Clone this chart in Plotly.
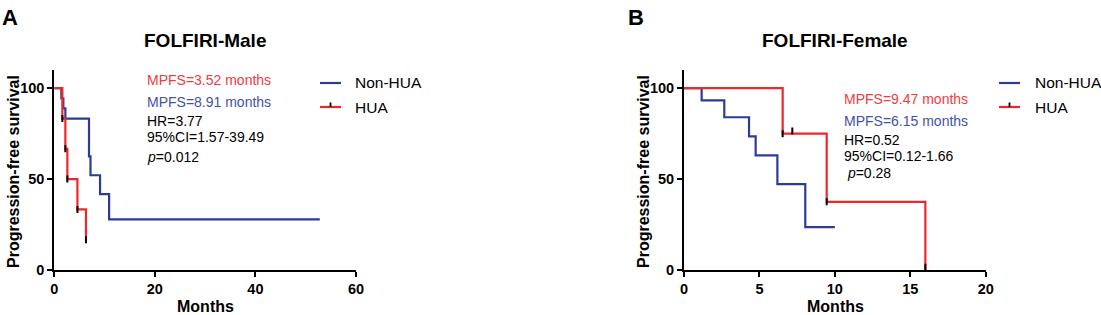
import plotly.graph_objects as go

# ---------------- data ----------------
# Panel A: FOLFIRI-Male
male_nonhua_t = [0, 1.4, 1.8, 2.2, 6.9, 7.2, 9.1, 10.9, 52.8]
male_nonhua_s = [100, 94.4, 88.9, 83.3, 62.5, 52.1, 41.7, 27.8, 27.8]
male_hua_t = [0, 1.6, 2.2, 2.6, 4.6, 6.3]
male_hua_s = [100, 83.3, 66.7, 50.0, 33.3, 16.7]
male_hua_cens_t = [1.6, 2.2, 2.6, 4.6, 6.3]
male_hua_cens_s = [83.3, 66.7, 50.0, 33.3, 16.7]

# Panel B: FOLFIRI-Female
female_nonhua_t = [0, 1.17, 2.67, 4.31, 4.75, 6.19, 8.04, 10.0]
female_nonhua_s = [100, 93.3, 84.0, 73.5, 63.0, 47.2, 23.6, 23.6]
female_hua_t = [0, 6.54, 9.46, 16.0]
female_hua_s = [100, 75.0, 37.5, 0]
female_hua_cens_t = [6.54, 7.18, 9.46, 16.0]
female_hua_cens_s = [75.0, 76.5, 37.5, 1.5]

x_ticks_a = [0, 20, 40, 60]
x_ticks_b = [0, 5, 10, 15, 20]
y_ticks = [0, 50, 100]

stats_a = ["MPFS=3.52 months", "MPFS=8.91 months", "HR=3.77", "95%CI=1.57-39.49", "<i>p</i>=0.012"]
stats_b = ["MPFS=9.47 months", "MPFS=6.15 months", "HR=0.52", "95%CI=0.12-1.66", " <i>p</i>=0.28"]
groups = ["Non-HUA", "HUA"]

# ---------------- style ----------------
W, H = 1101, 315
RED = "#F0262A"
BLUE = "#2E3B96"
RED_TXT = "#F23A3F"
BLUE_TXT = "#4252A8"
FONT = "Arial, Liberation Sans, sans-serif"

def px(x):
    return x / W

def py(y):
    return 1 - y / H

fig = go.Figure()

def km(t, s, color, xa, ya):
    fig.add_trace(go.Scatter(x=t, y=s, mode="lines", line=dict(color=color, width=2.2, shape="hv"),
                             xaxis=xa, yaxis=ya, showlegend=False, hoverinfo="skip"))

def cens(t, s, xa, ya):
    fig.add_trace(go.Scatter(x=t, y=s, mode="markers",
                             marker=dict(symbol="line-ns", size=5, line=dict(color="black", width=2)),
                             xaxis=xa, yaxis=ya, showlegend=False, hoverinfo="skip"))

km(male_nonhua_t, male_nonhua_s, BLUE, "x", "y")
km(male_hua_t, male_hua_s, RED, "x", "y")
cens(male_hua_cens_t, male_hua_cens_s, "x", "y")
km(female_nonhua_t, female_nonhua_s, BLUE, "x2", "y2")
km(female_hua_t, female_hua_s, RED, "x2", "y2")
cens(female_hua_cens_t, female_hua_cens_s, "x2", "y2")

ydom = [py(270), py(70)]
axis_common = dict(showline=True, linecolor="black", linewidth=2, ticks="outside", ticklen=5,
                   tickwidth=1.8, tickcolor="black", showgrid=False, zeroline=False, automargin=False,
                   tickfont=dict(family=FONT, size=14.5, color="black", weight="bold"))

fig.update_layout(
    width=W, height=H, margin=dict(l=0, r=0, t=0, b=0, autoexpand=False),
    paper_bgcolor="white", plot_bgcolor="white", showlegend=False,
    xaxis=dict(domain=[px(54.3), px(356)], range=[0, 60], tickvals=x_ticks_a, anchor="y", **axis_common),
    yaxis=dict(domain=ydom, range=[0, 110], tickvals=y_ticks, anchor="x", **axis_common),
    xaxis2=dict(domain=[px(684), px(985.7)], range=[0, 20], tickvals=x_ticks_b, anchor="y2", **axis_common),
    yaxis2=dict(domain=ydom, range=[0, 110], tickvals=y_ticks, anchor="x2", **axis_common),
)

ann = []
shapes = []

def text(x, y, s, size=14, color="black", bold=False, xanchor="left", angle=0):
    ann.append(dict(x=px(x), y=py(y), xref="paper", yref="paper", text=s, showarrow=False,
                    xanchor=xanchor, yanchor="middle", textangle=angle,
                    font=dict(family=FONT, size=size, color=color, weight="bold" if bold else "normal")))

# panel letters & titles
text(0, 17, "A", size=22, bold=True)
text(626, 17, "B", size=22, bold=True)
text(205, 40, "FOLFIRI-Male", size=19, bold=True, xanchor="center")
text(835, 41, "FOLFIRI-Female", size=19, bold=True, xanchor="center")

# axis titles
for cx in (205, 835):
    text(cx, 306, "Months", size=16, bold=True, xanchor="center")
text(14, 172, "Progression-free survival", size=16, bold=True, xanchor="center", angle=-90)
text(644, 172, "Progression-free survival", size=16, bold=True, xanchor="center", angle=-90)

# stats text
ys_a = [79.5, 102.5, 121, 137, 157]
cols = [RED_TXT, BLUE_TXT, "black", "black", "black"]
for s, y, c in zip(stats_a, ys_a, cols):
    text(145, y, s, size=14, color=c)
ys_b = [98.5, 121.5, 140, 156, 173]
for s, y, c in zip(stats_b, ys_b, cols):
    text(841.5, y, s, size=14, color=c)

# legends
for lx, tx in ((320, 353), (999, 1033)):
    shapes.append(dict(type="line", xref="paper", yref="paper", x0=px(lx), x1=px(lx + 21),
                       y0=py(83), y1=py(83), line=dict(color=BLUE, width=2.2)))
    shapes.append(dict(type="line", xref="paper", yref="paper", x0=px(lx), x1=px(lx + 21),
                       y0=py(107), y1=py(107), line=dict(color=RED, width=2.2)))
    shapes.append(dict(type="line", xref="paper", yref="paper", x0=px(lx + 10.5), x1=px(lx + 10.5),
                       y0=py(102.5), y1=py(107), line=dict(color="black", width=1.8)))
    text(tx, 83, groups[0], size=15.5)
    text(tx, 107, groups[1], size=15.5)

fig.update_layout(annotations=ann, shapes=shapes)
fig.write_html("out.html", config={"displayModeBar": False},
               post_script="document.body.style.margin='0';document.body.style.overflow='hidden';")
